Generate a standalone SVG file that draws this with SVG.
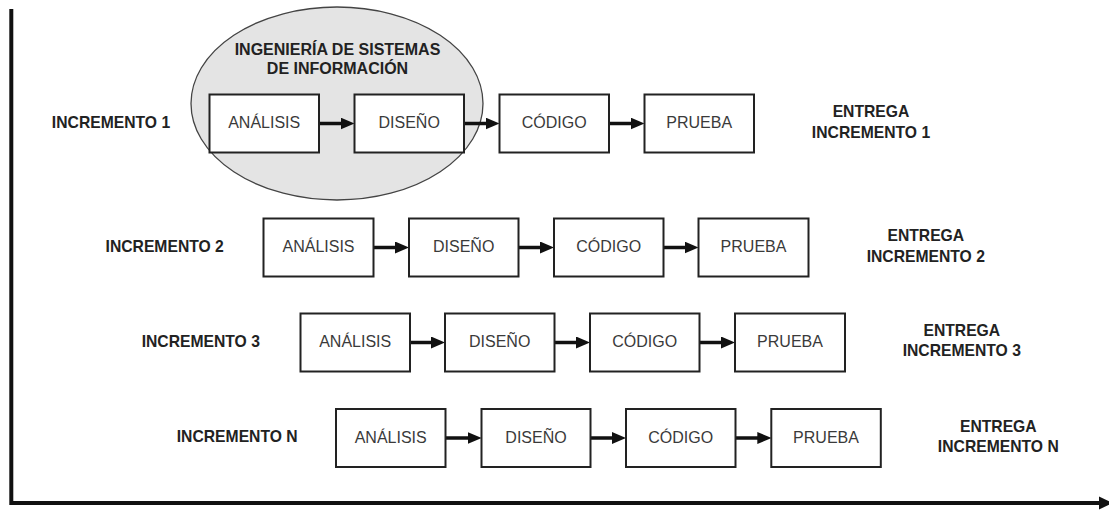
<svg xmlns="http://www.w3.org/2000/svg" width="1109" height="510" viewBox="0 0 1109 510">
<style>
.box{fill:#fff;stroke:#222;stroke-width:2}
.bt{font-family:"Liberation Sans",Arial,sans-serif;font-size:16px;fill:#3a3a3a;text-anchor:middle}
.lb{font-family:"Liberation Sans",Arial,sans-serif;font-size:15.7px;font-weight:bold;fill:#222;text-anchor:middle}
.conn{stroke:#111;stroke-width:3.5;fill:none;marker-end:url(#ah)}
</style>
<defs>
<marker id="ah" viewBox="0 0 14 12" refX="6" refY="6" markerWidth="14" markerHeight="12" markerUnits="userSpaceOnUse" orient="auto">
<path d="M0,0 L14,6 L0,12 z" fill="#111"/>
</marker>
</defs>
<rect width="1109" height="510" fill="#fff"/>
<g id="axes">
<path d="M11.3,9 V503 H1101" fill="none" stroke="#111" stroke-width="4"/>
<polygon points="1099,496.5 1113,503 1099,509.5" fill="#111"/>
</g>
<g id="ellipse-isi">
<ellipse cx="337" cy="103.5" rx="146" ry="96.5" fill="#e4e4e4" stroke="#444" stroke-width="1.3"/>
<text class="lb" x="337.5" y="55" style="font-size:16px">INGENIERÍA DE SISTEMAS</text>
<text class="lb" x="337.5" y="74" style="font-size:16px">DE INFORMACIÓN</text>
</g>
<g id="labels">
<text class="lb" x="111" y="127.6">INCREMENTO 1</text>
<text class="lb" x="164.7" y="251.6">INCREMENTO 2</text>
<text class="lb" x="200.8" y="347.3">INCREMENTO 3</text>
<text class="lb" x="237.2" y="442.3">INCREMENTO N</text>
</g>
<g id="entregas">
<text class="lb" x="871" y="117.3">ENTREGA</text>
<text class="lb" x="871" y="138.3">INCREMENTO 1</text>
<text class="lb" x="925.8" y="240.6">ENTREGA</text>
<text class="lb" x="925.8" y="261.6">INCREMENTO 2</text>
<text class="lb" x="961.8" y="335.6">ENTREGA</text>
<text class="lb" x="961.8" y="356.3">INCREMENTO 3</text>
<text class="lb" x="998.3" y="431.6">ENTREGA</text>
<text class="lb" x="998.3" y="452.3">INCREMENTO N</text>
</g>
<g id="connectors">
<line class="conn" x1="319" y1="123.5" x2="346.5" y2="123.5"/>
<line class="conn" x1="464" y1="123.5" x2="491.5" y2="123.5"/>
<line class="conn" x1="609" y1="123.5" x2="636.5" y2="123.5"/>
<line class="conn" x1="373.5" y1="247.5" x2="401" y2="247.5"/>
<line class="conn" x1="518.5" y1="247.5" x2="546" y2="247.5"/>
<line class="conn" x1="663.5" y1="247.5" x2="690.5" y2="247.5"/>
<line class="conn" x1="410" y1="342.5" x2="437" y2="342.5"/>
<line class="conn" x1="554.5" y1="342.5" x2="582" y2="342.5"/>
<line class="conn" x1="699.5" y1="342.5" x2="727" y2="342.5"/>
<line class="conn" x1="445.5" y1="438" x2="473.7" y2="438"/>
<line class="conn" x1="591" y1="438" x2="618" y2="438"/>
<line class="conn" x1="735.5" y1="438" x2="763.3" y2="438"/>
</g>
<g id="r1-analisis"><rect class="box" x="209.5" y="94.5" width="109.5" height="58"/><text class="bt" x="264.2" y="128">ANÁLISIS</text></g>
<g id="r1-diseno"><rect class="box" x="354.5" y="94.5" width="109.5" height="58"/><text class="bt" x="409.2" y="128">DISEÑO</text></g>
<g id="r1-codigo"><rect class="box" x="499.5" y="94.5" width="109.5" height="58"/><text class="bt" x="554.2" y="128">CÓDIGO</text></g>
<g id="r1-prueba"><rect class="box" x="644.5" y="94.5" width="109.5" height="58"/><text class="bt" x="699.2" y="128">PRUEBA</text></g>
<g id="r2-analisis"><rect class="box" x="263.5" y="218.5" width="110" height="58"/><text class="bt" x="318.5" y="252">ANÁLISIS</text></g>
<g id="r2-diseno"><rect class="box" x="409" y="218.5" width="109.5" height="58"/><text class="bt" x="463.7" y="252">DISEÑO</text></g>
<g id="r2-codigo"><rect class="box" x="554" y="218.5" width="109.5" height="58"/><text class="bt" x="608.7" y="252">CÓDIGO</text></g>
<g id="r2-prueba"><rect class="box" x="698.5" y="218.5" width="110" height="58"/><text class="bt" x="753.5" y="252">PRUEBA</text></g>
<g id="r3-analisis"><rect class="box" x="300.5" y="313.5" width="109.5" height="58"/><text class="bt" x="355.2" y="347">ANÁLISIS</text></g>
<g id="r3-diseno"><rect class="box" x="445" y="313.5" width="109.5" height="58"/><text class="bt" x="499.7" y="347">DISEÑO</text></g>
<g id="r3-codigo"><rect class="box" x="590" y="313.5" width="109.5" height="58"/><text class="bt" x="644.7" y="347">CÓDIGO</text></g>
<g id="r3-prueba"><rect class="box" x="735" y="313.5" width="110" height="58"/><text class="bt" x="790" y="347">PRUEBA</text></g>
<g id="rn-analisis"><rect class="box" x="336" y="409" width="109.5" height="58"/><text class="bt" x="390.7" y="442.5">ANÁLISIS</text></g>
<g id="rn-diseno"><rect class="box" x="481.5" y="409" width="109" height="58"/><text class="bt" x="536" y="442.5">DISEÑO</text></g>
<g id="rn-codigo"><rect class="box" x="626" y="409" width="109.5" height="58"/><text class="bt" x="680.7" y="442.5">CÓDIGO</text></g>
<g id="rn-prueba"><rect class="box" x="771.3" y="409" width="109.5" height="58"/><text class="bt" x="826" y="442.5">PRUEBA</text></g>
</svg>
